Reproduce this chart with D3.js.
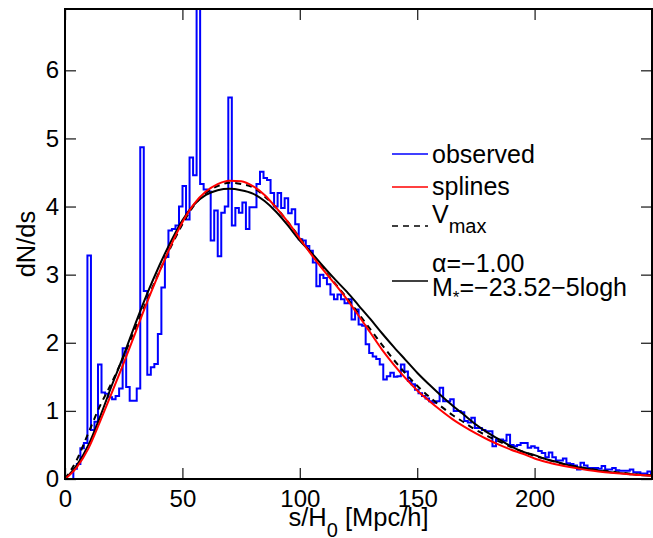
<!DOCTYPE html>
<html>
<head>
<meta charset="utf-8">
<script src="https://cdn.jsdelivr.net/npm/d3@7"></script>
<style>
  body { margin: 0; background: #fff; }
  text { font-family: "Liberation Sans", Arial, Helvetica, sans-serif; fill: #000; }
</style>
</head>
<body>
<div id="chart"></div>
<script>
// histogram of observed counts, bins of 1.5 starting at 0.55
var binStart = 0.55;
var binWidth = 1.5;
var observed = [
	0, 0, 0.15, 0.22, 0.45, 0.53, 3.28, 0.72, 0.84, 1.68,
	1.27, 1.25, 1.2, 1.17, 1.22, 1.33, 1.92, 1.35, 1.15, 1.15,
	1.33, 4.87, 2.76, 1.53, 1.64, 1.69, 2.13, 2.81, 3.26, 3.65,
	3.67, 3.72, 4.0, 4.3, 3.81, 4.72, 4.46, 7.5, 4.33, 4.25,
	4.22, 3.5, 3.94, 3.27, 3.91, 4.0, 5.6, 3.72, 3.98, 3.91,
	4.06, 3.67, 3.99, 3.99, 4.33, 4.51, 4.42, 4.39, 4.2, 4.0,
	4.2, 3.98, 4.12, 3.9, 3.96, 3.74, 3.52, 3.5, 3.42, 3.35,
	3.18, 2.83, 3.0, 2.95, 2.86, 2.71, 2.64, 2.71, 2.64, 2.58,
	2.64, 2.34, 2.49, 2.27, 2.25, 1.98, 1.85, 1.8, 1.76, 1.68,
	1.46, 1.51, 1.56, 1.5, 1.51, 1.68, 1.58, 1.44, 1.39, 1.31,
	1.26, 1.22, 1.18, 1.14, 1.12, 1.14, 1.34, 1.14, 1.14, 1.17,
	1.0, 1.0, 0.98, 0.85, 0.83, 0.9, 0.75, 0.75, 0.72, 0.7,
	0.7, 0.48, 0.58, 0.58, 0.56, 0.65, 0.5, 0.48, 0.5, 0.53,
	0.53, 0.46, 0.48, 0.46, 0.41, 0.38, 0.32, 0.39, 0.32, 0.27,
	0.27, 0.3, 0.23, 0.22, 0.2, 0.14, 0.24, 0.2, 0.16, 0.16,
	0.16, 0.15, 0.19, 0.14, 0.14, 0.16, 0.13, 0.12, 0.12, 0.12,
	0.14, 0.1, 0.1, 0.08, 0.08, 0.11, 0.07
];

// smooth curves, sampled every 5 Mpc/h
var sGrid = [0, 5, 10, 15, 20, 25, 30, 35, 40, 45, 50, 55, 60, 65, 70, 75, 80, 85, 90, 95,
	100, 105, 110, 115, 120, 125, 130, 135, 140, 145, 150, 155, 160, 165, 170, 175, 180, 185, 190, 195,
	200, 205, 210, 215, 220, 225, 230, 235, 240, 245, 250];
var splines = [0, 0.17, 0.45, 0.85, 1.27, 1.7, 2.15, 2.6, 3.02, 3.42, 3.77, 4.04, 4.22, 4.33, 4.38, 4.37, 4.3, 4.17, 3.98, 3.77,
	3.53, 3.29, 3.07, 2.86, 2.64, 2.4, 2.15, 1.9, 1.68, 1.48, 1.3, 1.15, 1.01, 0.88, 0.77, 0.67, 0.58, 0.5, 0.43, 0.37,
	0.3, 0.25, 0.21, 0.175, 0.145, 0.12, 0.1, 0.083, 0.068, 0.057, 0.047];
var vmax = [0, 0.28, 0.68, 1.08, 1.42, 1.8, 2.22, 2.63, 3.03, 3.4, 3.74, 4.02, 4.2, 4.3, 4.35, 4.33, 4.28, 4.15, 3.98, 3.77,
	3.54, 3.3, 3.08, 2.87, 2.66, 2.43, 2.2, 1.97, 1.75, 1.55, 1.37, 1.21, 1.07, 0.94, 0.83, 0.72, 0.63, 0.55, 0.47, 0.4,
	0.34, 0.29, 0.24, 0.2, 0.17, 0.14, 0.12, 0.1, 0.08, 0.065, 0.055];
var schechter = [0, 0.2, 0.5, 0.92, 1.38, 1.82, 2.28, 2.72, 3.12, 3.48, 3.8, 4.03, 4.17, 4.24, 4.26, 4.24, 4.19, 4.08, 3.92, 3.72,
	3.5, 3.32, 3.12, 2.93, 2.75, 2.55, 2.35, 2.14, 1.94, 1.75, 1.56, 1.39, 1.23, 1.08, 0.94, 0.8, 0.68, 0.58, 0.48, 0.4,
	0.35, 0.29, 0.245, 0.2, 0.165, 0.135, 0.11, 0.09, 0.075, 0.06, 0.05];

var xTicks = [0, 50, 100, 150, 200];
var yTicks = [0, 1, 2, 3, 4, 5, 6];

var width = 653, height = 538;
var margin = {top: 9, right: 1, bottom: 59, left: 65};
var w = width - margin.left - margin.right;
var h = height - margin.top - margin.bottom;
var font = 24;

var svg = d3.select("#chart").append("svg")
	.attr("width", width)
	.attr("height", height);

var x = d3.scaleLinear().domain([0, 250]).range([0, w]);
var y = d3.scaleLinear().domain([0, 6.9]).range([h, 0]);

var g = svg.append("g").attr("transform", "translate(" + margin.left + "," + margin.top + ")");

svg.append("defs").append("clipPath").attr("id", "plotClip")
	.append("rect").attr("width", w).attr("height", h);

var plot = g.append("g").attr("clip-path", "url(#plotClip)");

// stairs for the histogram
var steps = observed.map(function(v, i) { return [binStart + i * binWidth, v]; });
steps.push([binStart + observed.length * binWidth, observed[observed.length - 1]]);

var stairLine = d3.line()
	.x(function(d) { return x(d[0]); })
	.y(function(d) { return y(d[1]); })
	.curve(d3.curveStepAfter);

plot.append("path")
	.datum(steps)
	.attr("d", stairLine)
	.attr("fill", "none")
	.attr("stroke", "#0000ff")
	.attr("stroke-width", 2);

var smooth = d3.line()
	.x(function(d, i) { return x(sGrid[i]); })
	.y(function(d) { return y(d); })
	.curve(d3.curveMonotoneX);

plot.append("path").datum(schechter).attr("d", smooth)
	.attr("fill", "none").attr("stroke", "#000").attr("stroke-width", 2);
plot.append("path").datum(vmax).attr("d", smooth)
	.attr("fill", "none").attr("stroke", "#000").attr("stroke-width", 2)
	.attr("stroke-dasharray", "6,5");
plot.append("path").datum(splines).attr("d", smooth)
	.attr("fill", "none").attr("stroke", "#ff0000").attr("stroke-width", 2);

// axes, ticks pointing inward
function styleAxis(sel) {
	sel.select(".domain").remove();
	sel.selectAll(".tick line").attr("stroke", "#262626").attr("stroke-width", 1.3);
	sel.selectAll(".tick text")
		.style("font-family", "'Liberation Sans', Arial, Helvetica, sans-serif")
		.style("font-size", font + "px")
		.attr("fill", "#000");
}

g.append("g").attr("transform", "translate(0," + h + ")")
	.call(d3.axisBottom(x).tickValues(xTicks).tickSize(-11).tickPadding(10.5).tickFormat(d3.format("d")))
	.call(styleAxis);
g.append("g")
	.call(d3.axisTop(x).tickValues(xTicks).tickSize(-11).tickFormat(""))
	.call(styleAxis);
g.append("g")
	.call(d3.axisLeft(y).tickValues(yTicks).tickSize(-11).tickPadding(6).tickFormat(d3.format("d")))
	.call(styleAxis);
g.append("g").attr("transform", "translate(" + w + ",0)")
	.call(d3.axisRight(y).tickValues(yTicks).tickSize(-11).tickFormat(""))
	.call(styleAxis);

g.append("rect")
	.attr("width", w).attr("height", h)
	.attr("fill", "none").attr("stroke", "#000").attr("stroke-width", 2);

// axis labels
var xl = svg.append("text")
	.attr("x", margin.left + w / 2)
	.attr("y", 526)
	.attr("text-anchor", "middle")
	.style("font-size", "25.5px");
xl.append("tspan").text("s/H");
xl.append("tspan").attr("dy", 11).style("font-size", "20px").text("0");
xl.append("tspan").attr("dy", -11).text(" [Mpc/h]");

svg.append("text")
	.attr("transform", "translate(35," + (margin.top + h / 2) + ") rotate(-90)")
	.attr("text-anchor", "middle")
	.style("font-size", "25.5px")
	.text("dN/ds");

// legend
var legX1 = 392, legX2 = 428, legText = 432;
var legend = svg.append("g").style("font-size", "25px");

legend.append("line").attr("x1", legX1).attr("x2", legX2).attr("y1", 154).attr("y2", 154)
	.attr("stroke", "#0000ff").attr("stroke-width", 1.5);
legend.append("text").attr("x", legText).attr("y", 163).text("observed");

legend.append("line").attr("x1", legX1).attr("x2", legX2).attr("y1", 187).attr("y2", 187)
	.attr("stroke", "#ff0000").attr("stroke-width", 1.5);
legend.append("text").attr("x", legText).attr("y", 195).text("splines");

legend.append("line").attr("x1", legX1).attr("x2", legX2).attr("y1", 226).attr("y2", 226)
	.attr("stroke", "#000").attr("stroke-width", 1.5).attr("stroke-dasharray", "6,5");
var vt = legend.append("text").attr("x", legText).attr("y", 223);
vt.append("tspan").text("V");
vt.append("tspan").attr("dy", 10).style("font-size", "20px").text("max");

legend.append("line").attr("x1", legX1).attr("x2", legX2).attr("y1", 281).attr("y2", 281)
	.attr("stroke", "#000").attr("stroke-width", 1.5);
legend.append("text").attr("x", legText).attr("y", 272).text("α=−1.00");
var mt = legend.append("text").attr("x", legText).attr("y", 296);
mt.append("tspan").text("M");
mt.append("tspan").attr("dy", 7).style("font-size", "17px").text("*");
mt.append("tspan").attr("dy", -7).text("=−23.52−5logh");
</script>
</body>
</html>
